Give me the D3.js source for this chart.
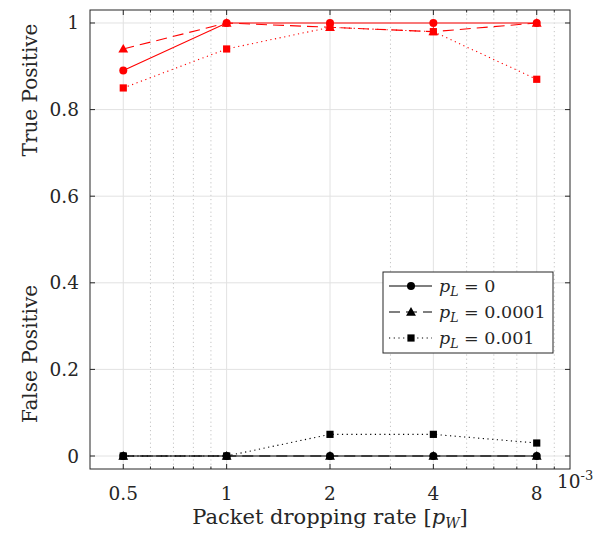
<!DOCTYPE html>
<html>
<head>
<meta charset="utf-8">
<script src="https://cdn.jsdelivr.net/npm/d3@7/dist/d3.min.js"></script>
<style>
  body { margin: 0; background: #fff; }
</style>
</head>
<body>
<svg id="chart" width="600" height="540" font-family="'DejaVu Serif', 'Liberation Serif', serif"></svg>
<script>
// packet dropping rate, units of 1e-3
const pW = [0.5, 1, 2, 4, 8];
const xTickLabels = ["0.5", "1", "2", "4", "8"];
const xMinor = [0.6, 0.7, 0.8, 0.9, 3, 5, 6, 7, 9];
const yTicks = [0, 0.2, 0.4, 0.6, 0.8, 1];

// true positive (red)
const tpL0 = [0.89, 1, 1, 1, 1];
const tpL1 = [0.94, 1, 0.99, 0.98, 1];
const tpL2 = [0.85, 0.94, 0.99, 0.98, 0.87];
// false positive (black)
const fpL0 = [0, 0, 0, 0, 0];
const fpL1 = [0, 0, 0, 0, 0];
const fpL2 = [0, 0, 0.05, 0.05, 0.03];

const legendLabels = ["0", "0.0001", "0.001"];

const box = { left: 90, right: 570, top: 10, bottom: 469 };

const svg = d3.select("#chart");

const x = d3.scaleLog().domain([0.4, 10]).range([box.left, box.right]);
const y = d3.scaleLinear().domain([-0.03, 1.03]).range([box.bottom, box.top]);

// grid
const grid = svg.append("g");
grid.selectAll("line.minor")
  .data(xMinor)
  .enter()
  .append("line")
  .attr("x1", d => x(d)).attr("x2", d => x(d))
  .attr("y1", box.top).attr("y2", box.bottom)
  .attr("stroke", "#c4c4c4")
  .attr("stroke-dasharray", "1.2,3");

grid.selectAll("line.vmajor")
  .data(pW)
  .enter()
  .append("line")
  .attr("x1", d => x(d)).attr("x2", d => x(d))
  .attr("y1", box.top).attr("y2", box.bottom)
  .attr("stroke", "#e2e2e2");

grid.selectAll("line.hmajor")
  .data(yTicks)
  .enter()
  .append("line")
  .attr("x1", box.left).attr("x2", box.right)
  .attr("y1", d => y(d)).attr("y2", d => y(d))
  .attr("stroke", "#e2e2e2");

// axes box
svg.append("rect")
  .attr("x", box.left).attr("y", box.top)
  .attr("width", box.right - box.left).attr("height", box.bottom - box.top)
  .attr("fill", "none").attr("stroke", "#262626").attr("stroke-width", 1);

// ticks
const ticks = svg.append("g").attr("stroke", "#262626");
[box.bottom, box.top].forEach(function(yy, k) {
  let dir = k === 0 ? -1 : 1;
  ticks.selectAll(null).data(pW).enter().append("line")
    .attr("x1", d => x(d)).attr("x2", d => x(d))
    .attr("y1", yy).attr("y2", yy + dir * 5);
  ticks.selectAll(null).data(xMinor).enter().append("line")
    .attr("x1", d => x(d)).attr("x2", d => x(d))
    .attr("y1", yy).attr("y2", yy + dir * 2.5);
});
[box.left, box.right].forEach(function(xx, k) {
  let dir = k === 0 ? 1 : -1;
  ticks.selectAll(null).data(yTicks).enter().append("line")
    .attr("x1", xx).attr("x2", xx + dir * 5)
    .attr("y1", d => y(d)).attr("y2", d => y(d));
});

// tick labels
svg.append("g").selectAll("text")
  .data(pW)
  .enter()
  .append("text")
  .attr("x", d => x(d))
  .attr("y", 500)
  .attr("text-anchor", "middle")
  .attr("font-size", 18.5)
  .attr("fill", "#262626")
  .text((d, i) => xTickLabels[i]);

svg.append("g").selectAll("text")
  .data(yTicks)
  .enter()
  .append("text")
  .attr("x", 79)
  .attr("y", d => y(d) + 6.5)
  .attr("text-anchor", "end")
  .attr("font-size", 18.5)
  .attr("fill", "#262626")
  .text(d => d3.format("~g")(d));

// exponent
const expo = svg.append("text").attr("x", 557).attr("y", 488)
  .attr("font-size", 18.5).attr("fill", "#262626");
expo.append("tspan").text("10");
expo.append("tspan").attr("dy", -8).attr("font-size", 13).text("-3");

// axis labels
const xl = svg.append("text")
  .attr("x", 330).attr("y", 524)
  .attr("text-anchor", "middle")
  .attr("font-size", 21)
  .attr("fill", "#262626");
xl.append("tspan").text("Packet dropping rate [");
xl.append("tspan").attr("font-style", "italic").text("p");
xl.append("tspan").attr("font-style", "italic").attr("font-size", 14).attr("dy", 4).text("W");
xl.append("tspan").attr("dy", -4).text("]");

svg.append("text")
  .attr("transform", "translate(37,90) rotate(-90)")
  .attr("text-anchor", "middle")
  .attr("font-size", 20)
  .attr("fill", "#262626")
  .text("True Positive");
svg.append("text")
  .attr("transform", "translate(37,354) rotate(-90)")
  .attr("text-anchor", "middle")
  .attr("font-size", 20)
  .attr("fill", "#262626")
  .text("False Positive");

// series
const styles = [
  { dash: null, marker: "circle" },
  { dash: "11,6", marker: "triangle" },
  { dash: "1.2,3.5", marker: "square" }
];

function drawMarker(g, kind, cx, cy, color) {
  if (kind === "circle") {
    g.append("circle").attr("cx", cx).attr("cy", cy).attr("r", 4).attr("fill", color);
  } else if (kind === "triangle") {
    g.append("path")
      .attr("d", d3.symbol().type(d3.symbolTriangle).size(42)())
      .attr("transform", "translate(" + cx + "," + (cy + 0.8) + ")")
      .attr("fill", color);
  } else {
    g.append("rect").attr("x", cx - 3.6).attr("y", cy - 3.6)
      .attr("width", 7.2).attr("height", 7.2).attr("fill", color);
  }
}

const line = d3.line().x(d => x(d[0])).y(d => y(d[1]));

function drawSeries(values, color, style) {
  let g = svg.append("g");
  let pts = pW.map((p, i) => [p, values[i]]);
  g.append("path")
    .attr("d", line(pts))
    .attr("fill", "none")
    .attr("stroke", color)
    .attr("stroke-width", 1.1)
    .attr("stroke-dasharray", style.dash);
  pts.forEach(function(d) {
    drawMarker(g, style.marker, x(d[0]), y(d[1]), color);
  });
}

[tpL0, tpL1, tpL2].forEach((v, i) => drawSeries(v, "#ff0000", styles[i]));
[fpL0, fpL1, fpL2].forEach((v, i) => drawSeries(v, "#000000", styles[i]));

// legend
const leg = svg.append("g");
leg.append("rect")
  .attr("x", 383).attr("y", 272)
  .attr("width", 170).attr("height", 81)
  .attr("fill", "#fff").attr("stroke", "#262626");

legendLabels.forEach(function(lab, i) {
  let ly = 286 + i * 26;
  leg.append("line")
    .attr("x1", 389).attr("x2", 432)
    .attr("y1", ly).attr("y2", ly)
    .attr("stroke", "#000").attr("stroke-width", 1.1)
    .attr("stroke-dasharray", styles[i].dash);
  drawMarker(leg, styles[i].marker, 411, ly, "#000");
  let t = leg.append("text").attr("x", 439).attr("y", ly + 6)
    .attr("font-size", 17.5).attr("fill", "#262626");
  t.append("tspan").attr("font-style", "italic").text("p");
  t.append("tspan").attr("font-style", "italic").attr("font-size", 12.5).attr("dy", 4).text("L");
  t.append("tspan").attr("dy", -4).text(" = " + lab);
});
</script>
</body>
</html>
